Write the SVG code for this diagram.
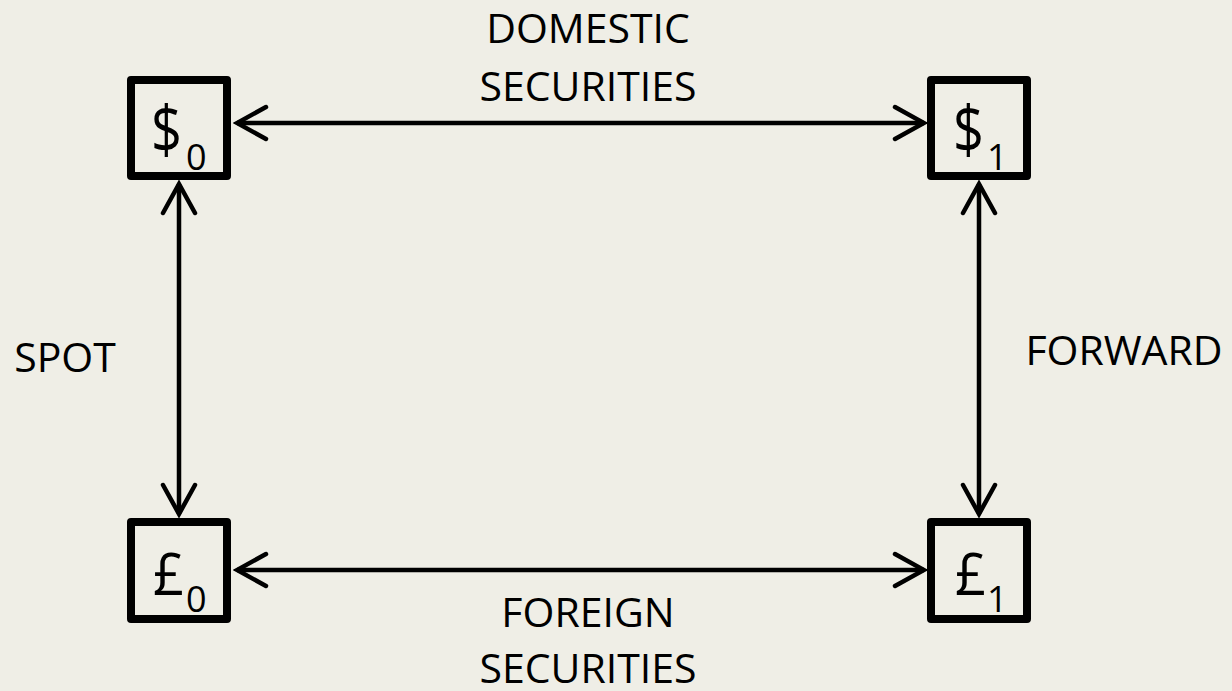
<svg xmlns="http://www.w3.org/2000/svg" width="1232" height="691" viewBox="0 0 1232 691">
<defs>
<style>
.box{fill:none;stroke:#000;stroke-width:8;stroke-linejoin:round}
.lbl{font-family:"Open Sans","Liberation Sans",sans-serif;font-size:41px;fill:#000;text-anchor:middle}
.sym{font-family:"Open Sans","Liberation Sans",sans-serif;font-size:66px;fill:#000}
.gbp{font-family:"Open Sans","Liberation Sans",sans-serif;font-size:58px;fill:#000}
.sub{font-family:"Open Sans","Liberation Sans",sans-serif;font-size:36px;fill:#000}
.conn{fill:none;stroke:#000;stroke-width:4.5;marker-start:url(#ah);marker-end:url(#ah)}
</style>
<marker id="ah" markerUnits="userSpaceOnUse" viewBox="-34 -20 38 40" markerWidth="38" markerHeight="40" refX="0" refY="0" orient="auto-start-reverse">
<path d="M-29,-16 L0,0 L-29,16" fill="none" stroke="#000" stroke-width="4.5" stroke-linecap="round" stroke-linejoin="miter"/>
</marker>
</defs>
<rect width="1232" height="691" fill="#efeee6"/>
<g id="connectors">
<line class="conn" x1="237" y1="123" x2="924" y2="123"/>
<line class="conn" x1="237" y1="570" x2="924" y2="570"/>
<line class="conn" x1="179" y1="184" x2="179" y2="514"/>
<line class="conn" x1="979" y1="184" x2="979" y2="514"/>
</g>
<g id="node-usd0">
<rect class="box" x="131" y="80" width="96" height="96"/>
<text class="sym" x="151" y="153" textLength="31" lengthAdjust="spacingAndGlyphs">$</text><text class="sub" x="186" y="170">0</text>
</g>
<g id="node-usd1">
<rect class="box" x="931" y="80" width="96" height="96"/>
<text class="sym" x="953" y="153" textLength="31" lengthAdjust="spacingAndGlyphs">$</text><text class="sub" x="987" y="170">1</text>
</g>
<g id="node-gbp0">
<rect class="box" x="131" y="522" width="96" height="97"/>
<text class="gbp" x="153" y="595" textLength="31" lengthAdjust="spacingAndGlyphs">£</text><text class="sub" x="186" y="612">0</text>
</g>
<g id="node-gbp1">
<rect class="box" x="931" y="522" width="96" height="97"/>
<text class="gbp" x="955" y="595" textLength="31" lengthAdjust="spacingAndGlyphs">£</text><text class="sub" x="987" y="612">1</text>
</g>
<g id="label-domestic">
<text class="lbl" x="588" y="43">DOMESTIC</text>
<text class="lbl" x="588" y="101">SECURITIES</text>
</g>
<g id="label-foreign">
<text class="lbl" x="588" y="627">FOREIGN</text>
<text class="lbl" x="588" y="683">SECURITIES</text>
</g>
<g id="label-spot"><text class="lbl" x="65" y="372">SPOT</text></g>
<g id="label-forward"><text class="lbl" x="1124" y="365" font-size="42">FORWARD</text></g>
</svg>
